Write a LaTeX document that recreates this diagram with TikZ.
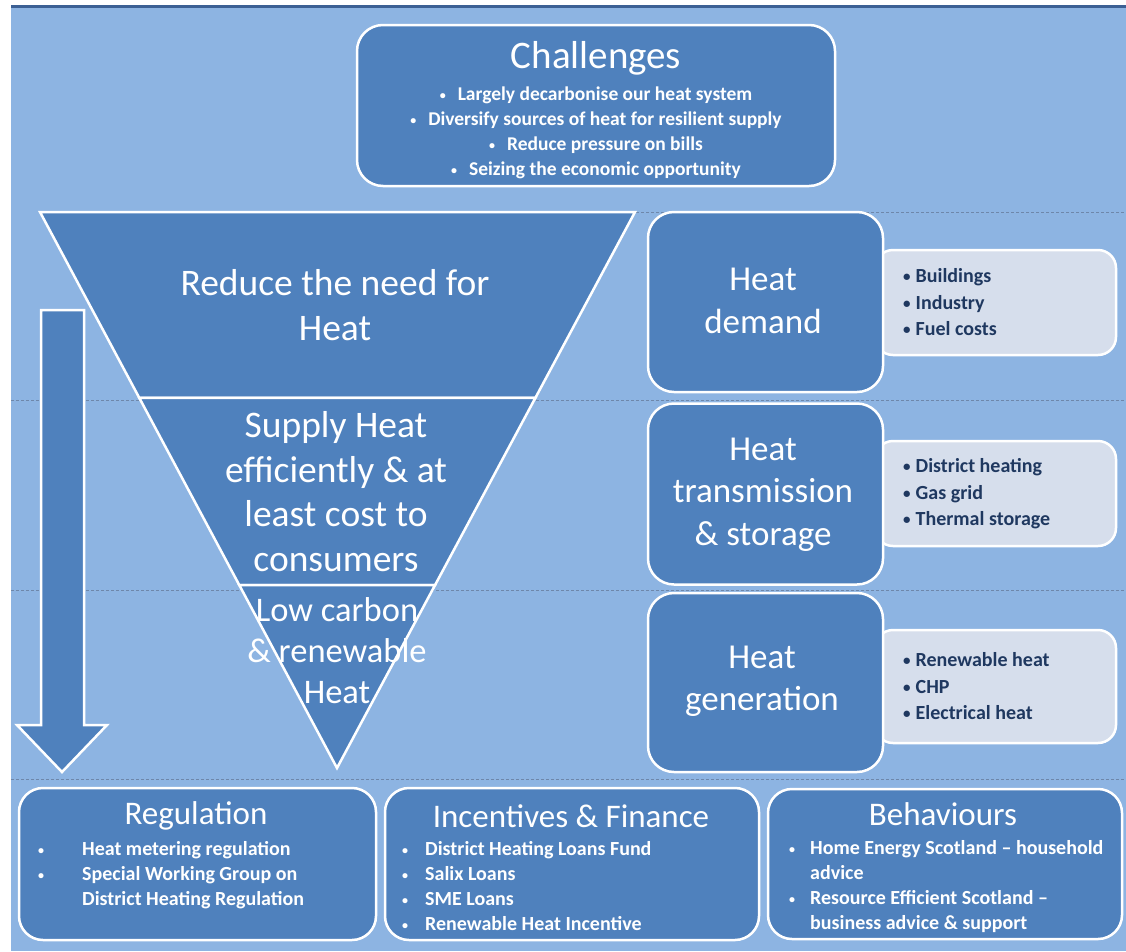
\documentclass[tikz,border=0pt]{standalone}
\usepackage{fontspec}
\setmainfont{Carlito}
\usetikzlibrary{calc, positioning}

\definecolor{bgblue}{RGB}{141,180,226}
\definecolor{boxblue}{RGB}{79,129,189}
\definecolor{paleblue}{RGB}{214,222,236}
\definecolor{navy}{RGB}{31,56,96}
\definecolor{topband}{RGB}{60,96,148}
\definecolor{dashgrey}{RGB}{110,135,170}

\newcommand{\smallbul}{\raisebox{1.5pt}{\fontsize{12}{12}\selectfont\textbullet}}
\newcommand{\palebul}{\raisebox{1pt}{\fontsize{15}{15}\selectfont\textbullet}}

\tikzset{
  darkbox/.style={draw=white, line width=2.5pt, fill=boxblue, rounded corners=26pt, inner sep=0pt},
  palebox/.style={draw=white, line width=2.5pt, fill=paleblue, rounded corners=18pt, inner sep=0pt},
  segment/.style={draw=white, line width=2.5pt, fill=boxblue},
  guide/.style={draw=dashgrey, line width=0.8pt, dash pattern=on 3pt off 2pt},
  heading/.style={text=white, align=center, font=\fontsize{35}{42.5}\selectfont},
  tritext/.style={text=white, align=center, font=\fontsize{37.5}{44.5}\selectfont},
  boxtitle/.style={text=white, font=\fontsize{33}{38}\selectfont},
  points/.style={inner sep=0pt, anchor=north west, text=white, font=\bfseries\fontsize{20}{25}\selectfont},
  palepoints/.style={inner sep=0pt, anchor=north west, text=navy, font=\bfseries\fontsize{20}{26.5}\selectfont}
}

\begin{document}
\begin{tikzpicture}[x=1pt, y=-1pt]
\useasboundingbox (0,0) rectangle (1126,951);

% background and guide lines
\fill[bgblue] (11,7) rectangle (1126,951);
\fill[topband] (11,4.5) rectangle (1126,7.5);
\draw[guide] (636,212) -- (1126,212);
\draw[guide] (11,400) -- (1126,400);
\draw[guide] (11,590) -- (1126,590);
\draw[guide] (11,779) -- (1126,779);

% challenges
\node[darkbox, minimum width=478pt, minimum height=161pt] (chal) at (596,105.5) {};
\node[boxtitle, font=\fontsize{39}{44}\selectfont] (chaltitle) at (596,58) {Challenges};
\node[inner sep=0pt, anchor=north, text=white, font=\bfseries\fontsize{19.5}{25}\selectfont] (chalpoints) at (596,83) {
    \begin{tabular}{@{}c@{}}
    \smallbul\hspace{12pt}Largely decarbonise our heat system\\
    \smallbul\hspace{12pt}Diversify sources of heat for resilient supply\\
    \smallbul\hspace{12pt}Reduce pressure on bills\\
    \smallbul\hspace{12pt}Seizing the economic opportunity
    \end{tabular}
};

% inverted triangle
\coordinate (tl) at (40,212);
\coordinate (tr) at (635,212);
\coordinate (apex) at (337,768);
\coordinate (l1) at ($(tl)!0.3345!(apex)$);
\coordinate (r1) at ($(tr)!0.3345!(apex)$);
\coordinate (l2) at ($(tl)!0.6709!(apex)$);
\coordinate (r2) at ($(tr)!0.6709!(apex)$);
\draw[segment] (tl) -- (tr) -- (r1) -- (l1) -- cycle;
\draw[segment] (l1) -- (r1) -- (r2) -- (l2) -- cycle;
\draw[segment] (l2) -- (r2) -- (apex) -- cycle;
\node[tritext] (reduce) at (335,305) {Reduce the need for\\Heat};
\node[tritext] (supply) at (336,491.5) {Supply Heat\\efficiently \& at\\least cost to\\consumers};
\node[tritext, font=\fontsize{34.5}{41}\selectfont] (lowcarbon) at (337,651) {Low carbon\\\& renewable\\Heat};

% downward arrow
\draw[segment] (41,310) -- (84,310) -- (84,725) -- (107,725) -- (62,772) -- (17,725) -- (41,725) -- cycle;

% heat boxes on the right
\node[palebox, minimum width=241pt, minimum height=105pt] (demandlist) at (995.5,302.5) {};
\node[palebox, minimum width=241pt, minimum height=105pt] (translist) at (995.5,493.5) {};
\node[palebox, minimum width=241pt, minimum height=113pt] (genlist) at (995.5,686.5) {};
\node[darkbox, minimum width=235pt, minimum height=180pt] (demand) at (765.5,302) {};
\node[darkbox, minimum width=235pt, minimum height=181pt] (trans) at (765.5,494) {};
\node[darkbox, minimum width=235pt, minimum height=179pt] (gen) at (765.5,682.5) {};
\node[heading] (demandtext) at (763,301) {Heat\\demand};
\node[heading] (transtext) at (763,494.5) {Heat\\transmission\\\& storage};
\node[heading] (gentext) at (762,681.5) {Heat\\generation};
\node[palepoints] (demandpoints) at (903,264) {
    \begin{tabular}{@{}l@{\hspace{5pt}}l@{}}
    \palebul & Buildings\\
    \palebul & Industry\\
    \palebul & Fuel costs
    \end{tabular}
};
\node[palepoints] (transpoints) at (903,454) {
    \begin{tabular}{@{}l@{\hspace{5pt}}l@{}}
    \palebul & District heating\\
    \palebul & Gas grid\\
    \palebul & Thermal storage
    \end{tabular}
};
\node[palepoints] (genpoints) at (903,648) {
    \begin{tabular}{@{}l@{\hspace{5pt}}l@{}}
    \palebul & Renewable heat\\
    \palebul & CHP\\
    \palebul & Electrical heat
    \end{tabular}
};

% bottom row
\node[darkbox, rounded corners=24pt, minimum width=357pt, minimum height=152pt] (regul) at (197.5,864) {};
\node[darkbox, rounded corners=24pt, minimum width=374pt, minimum height=152pt] (incent) at (572,864) {};
\node[darkbox, rounded corners=24pt, minimum width=354pt, minimum height=150pt] (behav) at (945,864) {};
\node[boxtitle] (regultitle) at (196,816) {Regulation};
\node[boxtitle] (incenttitle) at (571,816) {Incentives \& Finance};
\node[boxtitle] (behavtitle) at (943,814) {Behaviours};
\node[points] (regulpoints) at (38,838) {
    \begin{tabular}{@{}l@{\hspace{38pt}}l@{}}
    \smallbul & Heat metering regulation\\
    \smallbul & Special Working Group on\\
     & District Heating Regulation
    \end{tabular}
};
\node[points] (incentpoints) at (402,838) {
    \begin{tabular}{@{}l@{\hspace{17pt}}l@{}}
    \smallbul & District Heating Loans Fund\\
    \smallbul & Salix Loans\\
    \smallbul & SME Loans\\
    \smallbul & Renewable Heat Incentive
    \end{tabular}
};
\node[points] (behavpoints) at (789,837) {
    \begin{tabular}{@{}l@{\hspace{15pt}}l@{}}
    \smallbul & Home Energy Scotland -- household\\
     & advice\\
    \smallbul & Resource Efficient Scotland --\\
     & business advice \& support
    \end{tabular}
};
\end{tikzpicture}
\end{document}
